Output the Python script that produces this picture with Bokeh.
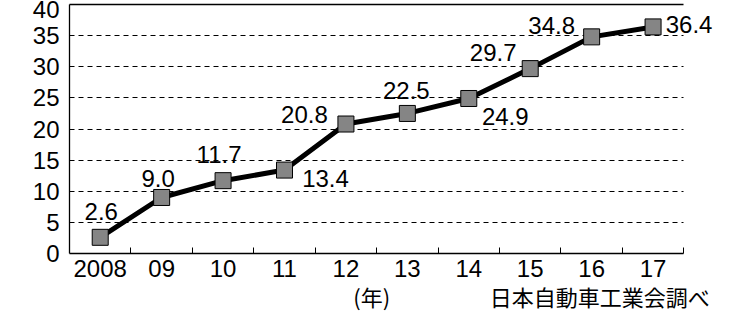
from bokeh.plotting import figure
from bokeh.models import (ColumnDataSource, FixedTicker, LinearAxis, Range1d,
                          LabelSet)
from bokeh.core.properties import value
from bokeh.embed import file_html
from bokeh.resources import INLINE

years = ["2008", "09", "10", "11", "12", "13", "14", "15", "16", "17"]
values = [2.6, 9.0, 11.7, 13.4, 20.8, 22.5, 24.9, 29.7, 34.8, 36.4]
value_labels = ["2.6", "9.0", "11.7", "13.4", "20.8", "22.5", "24.9", "29.7", "34.8", "36.4"]
y_ticks = [0, 5, 10, 15, 20, 25, 30, 35, 40]
x_unit = "(年)"
source_note = "日本自動車工業会調べ"

# label placement offsets (screen px, relative to marker; +dy = down)
dx = [1, -3.5, -4, 41, -41.5, -1, 36.5, -37, -40, 36]
dy = [-25.5, -18.5, -26, 8.5, -9.5, -22.5, 18, -16.5, -11.5, -2.5]

FONT = "Liberation Sans"
CJK = "Noto Sans CJK JP"

n = len(years)
xs = list(range(n))
src = ColumnDataSource(dict(x=xs, y=values, t=value_labels,
                            xo=dx, yo=[-d for d in dy]))

p = figure(width=743, height=330, output_backend="svg", toolbar_location=None,
           x_range=Range1d(-0.5, n), y_range=Range1d(0, 40),
           min_border_left=69, min_border_right=29, min_border_top=4,
           min_border_bottom=77)
p.outline_line_color = None
p.background_fill_color = "white"
p.border_fill_color = "white"

# bottom axis with year labels
xa = p.xaxis[0]
xa.bounds = (-0.5, n - 0.5)
xa.ticker = FixedTicker(ticks=xs, minor_ticks=[i + 0.5 for i in xs])
xa.major_label_overrides = {i: years[i] for i in xs}
xa.major_tick_in = 0
xa.major_tick_out = 0
xa.minor_tick_in = 6
xa.minor_tick_out = 0
xa.minor_tick_line_color = "black"
xa.axis_line_color = "black"
xa.axis_line_width = 1.3
xa.major_label_text_font = FONT
xa.major_label_text_font_size = "24px"
xa.major_label_text_color = "black"
xa.major_label_standoff = 6

# second row below: unit and source note
unit_x = 4.42
note_x = 8.13
xb = LinearAxis(ticker=FixedTicker(ticks=[unit_x, note_x]),
                major_label_overrides={unit_x: x_unit, note_x: source_note},
                axis_line_color=None, major_tick_in=0, major_tick_out=0,
                minor_tick_in=0, minor_tick_out=0, major_label_standoff=0,
                major_label_text_font=CJK, major_label_text_font_size="22px",
                major_label_text_color="black")
p.add_layout(xb, "below")

ya = p.yaxis[0]
ya.ticker = FixedTicker(ticks=y_ticks)
ya.major_tick_in = 0
ya.major_tick_out = 0
ya.minor_tick_line_color = None
ya.axis_line_color = "black"
ya.axis_line_width = 1.3
ya.major_label_text_font = FONT
ya.major_label_text_font_size = "24px"
ya.major_label_text_color = "black"
ya.major_label_standoff = 10

top = LinearAxis(ticker=FixedTicker(ticks=[]), major_label_text_font_size="0px",
                 major_tick_in=0, major_tick_out=0, minor_tick_in=0, minor_tick_out=0,
                 major_label_standoff=0, axis_line_color="black", axis_line_width=1.3,
                 bounds=(-0.5, n - 0.5))
p.add_layout(top, "above")

p.xgrid.grid_line_color = None
p.ygrid.ticker = FixedTicker(ticks=y_ticks[1:-1])
p.ygrid.cross_bounds = (-0.5, n - 0.5)
p.ygrid.grid_line_color = "black"
p.ygrid.grid_line_dash = "5 4"
p.ygrid.grid_line_width = 1

p.line("x", "y", source=src, line_color="black", line_width=5)
p.scatter("x", "y", source=src, marker="square", size=16,
          fill_color="#858585", line_color="black", line_width=1)

labels = LabelSet(x="x", y="y", text="t", source=src, x_offset="xo", y_offset="yo",
                  text_align="center", text_baseline="middle",
                  text_font=value(FONT), text_font_size="24px", text_color="black")
p.add_layout(labels)

open("out.html", "w").write(file_html(p, INLINE))
